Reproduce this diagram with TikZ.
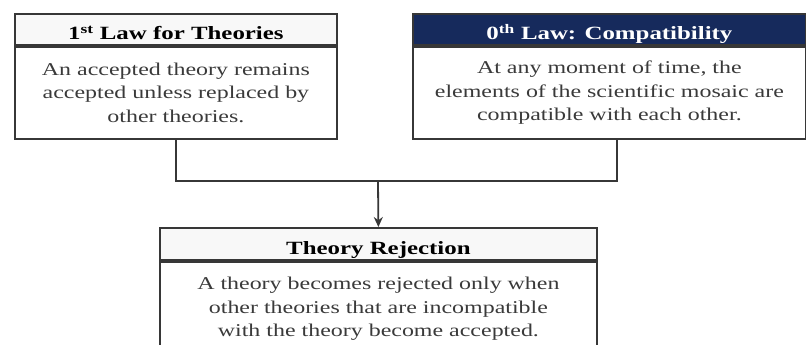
\documentclass[tikz,border=0pt]{standalone}
\usepackage{fontspec}
\setmainfont{Liberation Serif}[FakeStretch=1.33]
\usetikzlibrary{arrows.meta}
\definecolor{navy}{RGB}{22,42,92}
\definecolor{framegray}{RGB}{55,55,55}
\definecolor{bodygray}{RGB}{58,58,58}
\definecolor{paleband}{RGB}{248,248,248}
\begin{document}
\begin{tikzpicture}[x=1pt,y=-1pt,
  headbox/.style={draw=framegray, line width=1.8pt, fill=#1, minimum height=31pt,
    inner sep=0pt, text height=21pt, text depth=0pt, anchor=north west,
    font=\bfseries\fontsize{18.7}{22}\selectfont},
  bodybox/.style={draw=framegray, line width=1.8pt, fill=white, inner sep=0pt,
    anchor=north west, align=center, text=bodygray,
    font=\fontsize{18}{23.5}\selectfont},
  conn/.style={draw=framegray, line width=1.8pt}]
  \clip (0,0) rectangle (806,345);
  \fill[white] (0,0) rectangle (806,345);

  % first law
  \node[headbox=paleband, minimum width=322pt] (h1) at (14,13)
    {1\textsuperscript{st} Law for Theories};
  \node[bodybox, minimum width=322pt, minimum height=92pt] (b1) at (h1.south west)
    {An accepted theory remains\\accepted unless replaced by\\other theories.};

  % zeroth law
  \node[headbox=navy, text=white, minimum width=393pt] (h2) at (412,13)
    {0\textsuperscript{th} Law: Compatibility};
  \node[bodybox, minimum width=393pt, minimum height=92pt] (b2) at (h2.south west)
    {At any moment of time, the\\elements of the scientific mosaic are\\compatible with each other.};

  % theory rejection
  \node[headbox=paleband, minimum width=437pt, minimum height=32pt] (h3) at (159,227)
    {Theory Rejection};
  \node[bodybox, minimum width=437pt, minimum height=94pt] (b3) at (h3.south west)
    {A theory becomes rejected only when\\other theories that are incompatible\\with the theory become accepted.};

  % connectors
  \coordinate (j) at (378,181);
  \draw[conn] (b1.south) |- (j);
  \draw[conn] ([xshift=7.5pt]b2.south) |- (j);
  \draw[conn, -{Stealth[length=10pt,width=9pt]}] (j) -- (h3.north);
\end{tikzpicture}
\end{document}
